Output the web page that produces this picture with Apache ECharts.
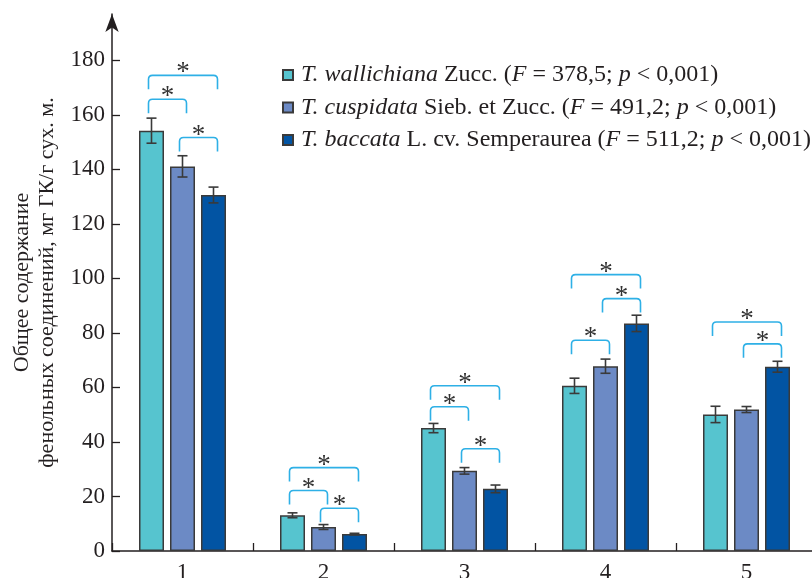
<!DOCTYPE html>
<html>
<head>
<meta charset="utf-8">
<script src="https://cdn.jsdelivr.net/npm/echarts@6/dist/echarts.min.js"></script>
<style>
  html, body { margin: 0; padding: 0; background: #ffffff; }
  #chart { width: 812px; height: 578px; }
</style>
</head>
<body>
<div id="chart"></div>
<script>
// Sample groups on the x axis
const categories = ['1', '2', '3', '4', '5'];

// Species and their ANOVA statistics
const speciesNames = ['T. wallichiana', 'T. cuspidata', 'T. baccata'];
const speciesAuthors = [' Zucc. (', ' Sieb. et Zucc. (', ' L. cv. Semperaurea ('];
const fValues = ['378,5', '491,2', '511,2'];

// Total phenolic content, mg GAE/g dry weight (mean and error)
const wallichiana    = [154.2, 13.1, 45.1, 60.6, 50.1];
const wallichianaErr = [4.6, 0.9, 1.7, 2.8, 3.0];
const cuspidata      = [141.1, 8.8, 29.4, 67.8, 51.9];
const cuspidataErr   = [3.9, 0.9, 1.2, 2.6, 1.1];
const baccata        = [130.6, 6.2, 22.8, 83.5, 67.6];
const baccataErr     = [2.9, 0.3, 1.4, 3.0, 2.0];

// Y axis tick values
const yTicks = [0, 20, 40, 60, 80, 100, 120, 140, 160, 180];

// Significant differences: group, first species, second species, bracket level
const sigGroup = [0, 0, 0, 1, 1, 1, 2, 2, 2, 3, 3, 3, 4, 4];
const sigFrom  = [0, 0, 1, 0, 0, 1, 0, 0, 1, 0, 1, 0, 0, 1];
const sigTo    = [2, 1, 2, 2, 1, 2, 2, 1, 2, 2, 2, 1, 2, 2];
const sigLevel = [174.5, 165.7, 151.7, 30.6, 22.2, 15.7, 60.6, 52.9, 37.5, 101.4, 92.6, 77.3, 84.0, 76.0];

const colors = ['#56C4CF', '#6C8AC5', '#0254A3'];
const edge = '#3a3a3a';
const ink = '#231f20';
const bracketColor = '#2EB0E6';
const serif = '"Liberation Serif", "Times New Roman", serif';

const BAR_W = 25;
const BAR_GAP = 6;
const PITCH = BAR_W + BAR_GAP;

const means = [wallichiana, cuspidata, baccata];
const errs = [wallichianaErr, cuspidataErr, baccataErr];

function barX(api, group, k) {
  const c = api.coord([group, 0]);
  return c[0] + (k - 1) * PITCH;
}

// Error bar series for species k
function errorSeries(k) {
  const data = means[k].map((v, i) => [i, v, errs[k][i]]);
  return {
    type: 'custom',
    name: 'err' + k,
    silent: true,
    z: 5,
    data: data,
    encode: { x: 0, y: 1 },
    renderItem: function (params, api) {
      const i = api.value(0);
      const v = api.value(1);
      const e = api.value(2);
      const x = barX(api, i, k);
      const yHi = api.coord([i, v + e])[1];
      const yLo = api.coord([i, v - e])[1];
      const cap = 5;
      const style = { stroke: edge, lineWidth: 1.6, fill: null };
      return {
        type: 'group',
        children: [
          { type: 'line', shape: { x1: x, y1: yHi, x2: x, y2: yLo }, style: style },
          { type: 'line', shape: { x1: x - cap, y1: yHi, x2: x + cap, y2: yHi }, style: style },
          { type: 'line', shape: { x1: x - cap, y1: yLo, x2: x + cap, y2: yLo }, style: style }
        ]
      };
    }
  };
}

const bracketData = sigGroup.map((g, i) => [g, sigLevel[i], sigFrom[i], sigTo[i]]);

const bracketSeries = {
  type: 'custom',
  name: 'sig',
  silent: true,
  z: 6,
  data: bracketData,
  encode: { x: 0, y: 1 },
  renderItem: function (params, api) {
    const g = api.value(0);
    const lvl = api.value(1);
    const a = api.value(2);
    const b = api.value(3);
    const x1 = barX(api, g, a) - 3;
    const x2 = barX(api, g, b) + 4;
    const yt = api.coord([g, lvl])[1];
    const yb = yt + 14;
    const r = 4;
    const path = 'M' + x1 + ' ' + yb + ' L' + x1 + ' ' + (yt + r) +
      ' Q' + x1 + ' ' + yt + ' ' + (x1 + r) + ' ' + yt +
      ' L' + (x2 - r) + ' ' + yt +
      ' Q' + x2 + ' ' + yt + ' ' + x2 + ' ' + (yt + r) +
      ' L' + x2 + ' ' + yb;
    return {
      type: 'group',
      children: [
        {
          type: 'path',
          shape: { pathData: path },
          style: { stroke: bracketColor, lineWidth: 1.6, fill: null }
        },
        {
          type: 'text',
          style: {
            x: (x1 + x2) / 2,
            y: yt - 2,
            text: '*',
            font: '27px ' + serif,
            fill: '#333333',
            align: 'center',
            verticalAlign: 'middle'
          }
        }
      ]
    };
  }
};

const barSeries = speciesNames.map((name, k) => ({
  type: 'bar',
  name: name,
  data: means[k],
  barWidth: BAR_W,
  barGap: (BAR_GAP / BAR_W * 100) + '%',
  itemStyle: { color: colors[k], borderColor: edge, borderWidth: 1.5 },
  z: 3
}));

const chart = echarts.init(document.getElementById('chart'), null, { renderer: 'canvas' });

chart.setOption({
  animation: false,
  backgroundColor: '#ffffff',
  grid: {
    left: 112, right: -5, top: 14, bottom: 27,
    containLabel: false,
    outerBoundsMode: 'none'
  },
  legend: {
    data: speciesNames,
    orient: 'vertical',
    left: 282,
    top: 63,
    padding: 0,
    itemWidth: 10,
    itemHeight: 10,
    itemGap: 8.5,
    icon: 'rect',
    formatter: function (name) {
      const k = speciesNames.indexOf(name);
      return '{i|' + name + '}{n|' + speciesAuthors[k] + '}{i|F}{n| = ' + fValues[k] + '; }{i|p}{n| < 0,001)}';
    },
    textStyle: {
      fontFamily: serif,
      fontSize: 24,
      color: ink,
      padding: [0, 0, 0, 3],
      rich: {
        i: { fontFamily: serif, fontSize: 24, fontStyle: 'italic', color: ink, lineHeight: 24 },
        n: { fontFamily: serif, fontSize: 24, color: ink, lineHeight: 24 }
      }
    }
  },
  xAxis: {
    type: 'category',
    data: categories,
    axisLine: { lineStyle: { color: ink, width: 1.5 } },
    axisTick: { show: true, inside: true, length: 8, lineStyle: { color: ink, width: 1.3 } },
    axisLabel: { fontFamily: serif, fontSize: 23, color: ink, margin: 10 }
  },
  yAxis: {
    type: 'value',
    min: 0,
    max: 197,
    interval: 20,
    name: 'Общее содержание\nфенольных соединений, мг ГК/г сух. м.',
    nameLocation: 'middle',
    nameRotate: 90,
    nameGap: 47,
    nameTextStyle: { fontFamily: serif, fontSize: 22, color: ink, lineHeight: 25 },
    splitLine: { show: false },
    axisLine: {
      show: true,
      symbol: ['none', 'arrow'],
      symbolSize: [10, 18],
      lineStyle: { color: ink, width: 1.5 }
    },
    axisTick: { show: true, inside: true, length: 8, customValues: yTicks, lineStyle: { color: ink, width: 1.3 } },
    axisLabel: { fontFamily: serif, fontSize: 23, color: ink, margin: 7, customValues: yTicks }
  },
  series: barSeries.concat([errorSeries(0), errorSeries(1), errorSeries(2), bracketSeries])
});
</script>
</body>
</html>
